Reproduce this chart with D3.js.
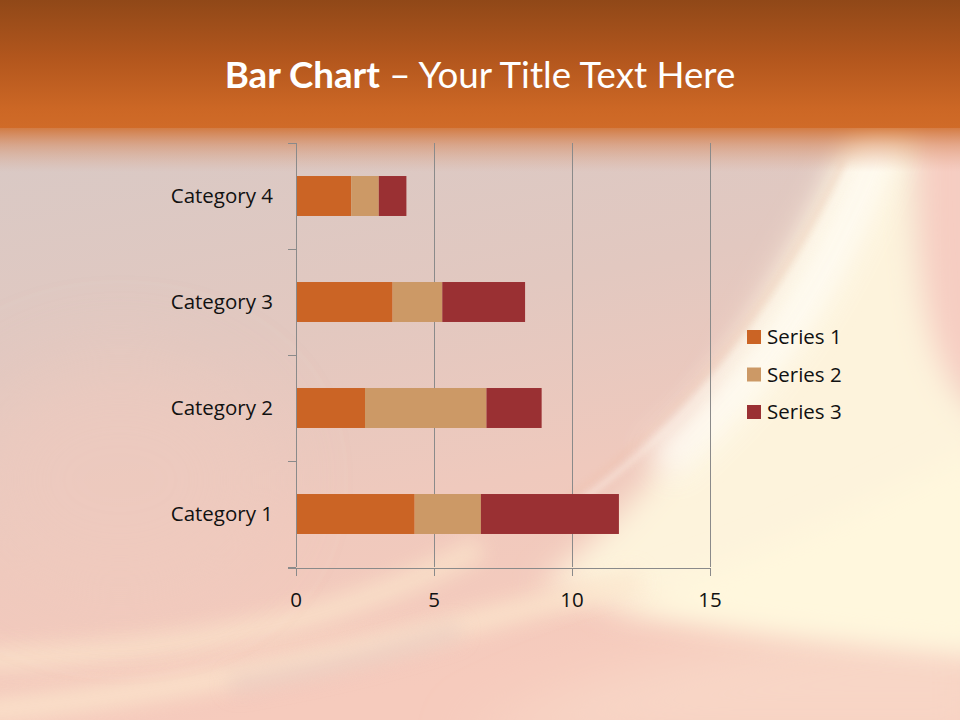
<!DOCTYPE html>
<html><head><meta charset="utf-8">
<script src="https://cdn.jsdelivr.net/npm/d3@7"></script>
<style>html,body{margin:0;padding:0;overflow:hidden;background:#fff}svg{display:block}</style>
</head><body>
<svg id="c" width="960" height="720"></svg>
<script>
const categories = ["Category 1", "Category 2", "Category 3", "Category 4"];
const seriesNames = ["Series 1", "Series 2", "Series 3"];
const series1 = [4.3, 2.5, 3.5, 2];
const series2 = [2.4, 4.4, 1.8, 1];
const series3 = [5, 2, 3, 1];
const xTicks = [0, 5, 10, 15];
const seriesColors = ["#CB6425", "#CC9966", "#9A3033"];

(function(){
const W = 960, H = 720;
const svg = d3.select("#c");
const defs = svg.append("defs");

function mkBlur(id, sd){
  defs.append("filter").attr("id",id).attr("x","-50%").attr("y","-50%").attr("width","200%").attr("height","200%")
    .append("feGaussianBlur").attr("stdDeviation",sd);
}
mkBlur("b40",40); mkBlur("b25",25); mkBlur("b15",15); mkBlur("b10",10); mkBlur("b6",6); mkBlur("b3",3);

// ---------- background ----------
const body = defs.append("linearGradient").attr("id","body").attr("x1",0).attr("y1",0).attr("x2",0.25).attr("y2",1);
[["0%","#dcc3ba"],["20%","#d9c9c5"],["50%","#e2c8c0"],["75%","#efc9bd"],["100%","#f6cbbd"]]
  .forEach(s=>body.append("stop").attr("offset",s[0]).attr("stop-color",s[1]));
svg.append("rect").attr("width",W).attr("height",H).attr("fill","url(#body)");

// lower right peach
svg.append("path").attr("d","M460,740 C580,670 760,630 990,610 L990,740 Z").attr("fill","#f8d6c6").attr("filter","url(#b25)");
// right-side pink
svg.append("rect").attr("x",905).attr("y",130).attr("width",80).attr("height",260).attr("fill","#f6cdc2").attr("filter","url(#b15)");
// large cream area
svg.append("path").attr("d","M865,110 C820,200 770,290 735,350 C695,430 635,510 540,585 C640,610 800,625 990,650 L990,420 C935,380 915,330 915,110 Z")
  .attr("fill","#fdf3dc").attr("filter","url(#b15)");
svg.append("path").attr("d","M990,440 C880,500 760,560 600,605 C700,625 820,640 990,650 Z")
  .attr("fill","#fff7dd").attr("filter","url(#b15)");
// bright core along diagonal
svg.append("path").attr("d","M885,130 C850,230 805,310 755,370 C720,410 690,440 660,465")
  .attr("fill","none").attr("stroke","#fffdf6").attr("stroke-width",40).attr("opacity",0.85).attr("filter","url(#b15)");
svg.append("path").attr("d","M852,165 C815,245 770,320 705,390 C655,445 605,485 560,515")
  .attr("fill","none").attr("stroke","#fffaf0").attr("stroke-width",3).attr("opacity",0.7).attr("filter","url(#b3)");
svg.append("path").attr("d","M843,162 C805,240 760,315 695,385 C645,440 595,480 545,512")
  .attr("fill","none").attr("stroke","#efbfa6").attr("stroke-width",3).attr("opacity",0.45).attr("filter","url(#b3)");
// lower-left cream streaks
svg.append("path").attr("d","M-20,660 C120,655 250,635 330,610 C400,588 440,568 480,548")
  .attr("fill","none").attr("stroke","#fbe4cb").attr("stroke-width",22).attr("opacity",0.8).attr("filter","url(#b10)");
svg.append("path").attr("d","M-20,712 C150,695 300,665 420,635 C500,615 560,600 640,580")
  .attr("fill","none").attr("stroke","#fce7cd").attr("stroke-width",22).attr("opacity",0.8).attr("filter","url(#b10)");
svg.append("path").attr("d","M230,685 C320,670 380,655 460,630")
  .attr("fill","none").attr("stroke","#e2c4bf").attr("stroke-width",16).attr("opacity",0.55).attr("filter","url(#b10)");
// left pinkish wash
svg.append("ellipse").attr("cx",120).attr("cy",480).attr("rx",150).attr("ry",120).attr("fill","#efcbbf").attr("opacity",0.6).attr("filter","url(#b40)");

// header band
const head = defs.append("linearGradient").attr("id","head").attr("x1",0).attr("y1",0).attr("x2",0).attr("y2",1);
[["0%","#904818"],["45%","#b2561d"],["85%","#cc6725"],["100%","#d06b28"]]
  .forEach(s=>head.append("stop").attr("offset",s[0]).attr("stop-color",s[1]));
svg.append("rect").attr("width",W).attr("height",128).attr("fill","url(#head)");
const fade = defs.append("linearGradient").attr("id","fade").attr("x1",0).attr("y1",0).attr("x2",0).attr("y2",1);
fade.append("stop").attr("offset","0%").attr("stop-color","#d06b28").attr("stop-opacity",0.85);
fade.append("stop").attr("offset","40%").attr("stop-color","#d57a45").attr("stop-opacity",0.45);
fade.append("stop").attr("offset","100%").attr("stop-color","#dc9a7a").attr("stop-opacity",0);
svg.append("rect").attr("y",127).attr("width",W).attr("height",45).attr("fill","url(#fade)");

// ---------- title ----------
const title = svg.append("text").attr("x",480).attr("y",88).attr("text-anchor","middle")
  .attr("fill","#ffffff").style("font-family","Lato, 'Open Sans', sans-serif").style("font-size","36.7px");
title.append("tspan").attr("font-weight","bold").text("Bar Chart");
title.append("tspan").text(" \u2013 Your Title Text Here");

// ---------- chart ----------
const pL = 296, pR = 710, pT = 143, pB = 567;
const x = d3.scaleLinear().domain([0, 15]).range([pL, pR]);
const y = d3.scaleBand().domain(categories).range([pB, pT]).paddingInner(0.623).paddingOuter(0.3115);
const axisColor = "#8a8a8a";

const g = svg.append("g");
g.selectAll("line.grid").data(xTicks.slice(1)).join("line")
  .attr("x1",d=>x(d)).attr("x2",d=>x(d)).attr("y1",pT).attr("y2",pB)
  .attr("stroke",axisColor).attr("stroke-width",1).attr("shape-rendering","crispEdges");

const table = categories.map((c,i)=>({cat:c, s0:series1[i], s1:series2[i], s2:series3[i]}));
const stack = d3.stack().keys(["s0","s1","s2"])(table);
g.selectAll("g.layer").data(stack).join("g").attr("fill",(d,i)=>seriesColors[i])
  .selectAll("rect").data(d=>d).join("rect")
  .attr("x",d=>x(d[0])).attr("width",d=>x(d[1])-x(d[0]))
  .attr("y",d=>y(d.data.cat)).attr("height",y.bandwidth());

const font = "'Open Sans', Lato, sans-serif";
const fs = "20.5px";
const yAxisG = svg.append("g").attr("transform",`translate(${pL},0)`);
yAxisG.append("line").attr("x1",0).attr("x2",0).attr("y1",pT).attr("y2",pB).attr("stroke",axisColor).attr("shape-rendering","crispEdges");
const catEdges = d3.range(categories.length+1).map(i=>pB - i*(pB-pT)/categories.length);
yAxisG.selectAll("line.t").data(catEdges).join("line").attr("x1",-8).attr("x2",0).attr("y1",d=>d).attr("y2",d=>d)
  .attr("stroke",axisColor).attr("shape-rendering","crispEdges");
yAxisG.selectAll("text").data(categories).join("text")
  .attr("x",-23).attr("y",d=>y(d)+y.bandwidth()/2).attr("dy","0.35em").attr("text-anchor","end")
  .style("font-family",font).style("font-size",fs).attr("fill","#111").text(d=>d);

const xAxisG = svg.append("g").attr("transform",`translate(0,${pB+1})`);
xAxisG.append("line").attr("x1",pL-8).attr("x2",pR).attr("y1",0).attr("y2",0).attr("stroke",axisColor).attr("shape-rendering","crispEdges");
xAxisG.selectAll("line.t").data(xTicks).join("line").attr("x1",d=>x(d)).attr("x2",d=>x(d)).attr("y1",0).attr("y2",8)
  .attr("stroke",axisColor).attr("shape-rendering","crispEdges");
xAxisG.selectAll("text").data(xTicks).join("text")
  .attr("x",d=>x(d)).attr("y",32).attr("dy","0.35em").attr("text-anchor","middle")
  .style("font-family",font).style("font-size",fs).attr("fill","#111").text(d=>d);

const leg = svg.append("g").attr("transform","translate(747,337)");
const li = leg.selectAll("g").data(seriesNames).join("g").attr("transform",(d,i)=>`translate(0,${i*37.5})`);
li.append("rect").attr("x",0).attr("y",-7).attr("width",14).attr("height",14).attr("fill",(d,i)=>seriesColors[i]);
li.append("text").attr("x",20).attr("y",0).attr("dy","0.35em").style("font-family",font).style("font-size",fs).attr("fill","#111").text(d=>d);
})();
</script>
</body></html>
